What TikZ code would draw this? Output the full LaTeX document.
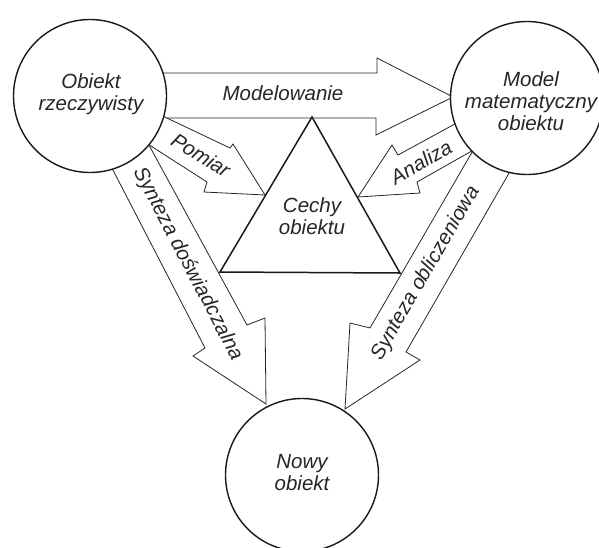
\documentclass[tikz,border=0pt]{standalone}
\usepackage{fontspec}
\setmainfont{Liberation Sans}
\begin{document}
\begin{tikzpicture}[x=1pt,y=-1pt,
  blockarrow/.style={draw=black!85, line width=0.8pt, fill=white, line join=miter},
  bubble/.style={circle, draw=black!90, line width=1.4pt, fill=white,
                 minimum size=153pt, inner sep=0pt},
  trianglebox/.style={draw=black!90, line width=1.5pt, fill=white, line join=miter},
  lbl/.style={font=\fontsize{20.5}{22}\selectfont\itshape, text=black!85,
              align=center, inner sep=0pt},
  ]
\useasboundingbox (0,0) rectangle (599,547);

% block arrows (their tails end inside the circles, which are drawn on top)
% Modelowanie
\path[blockarrow] (150,73) -- (377,73) -- (377,58) -- (453,97)
  -- (376,135) -- (376,118) -- (150,118);
% Pomiar
\path[blockarrow] (150,110) -- (230,148) -- (233,144) -- (265,195)
  -- (204,192) -- (207,182) -- (140,139);
% Analiza
\path[blockarrow] (475,113) -- (398,155) -- (392,145) -- (358,197)
  -- (420,193) -- (417,182) -- (485,143.5);
% Synteza doswiadczalna
\path[blockarrow] (100,145) -- (205,348) -- (193,356) -- (266,404)
  -- (265,318) -- (247,325) -- (140,128.6);
% Synteza obliczeniowa
\path[blockarrow] (482,135) -- (370,328) -- (350,323) -- (345,409)
  -- (420,360) -- (406,352) -- (516,161);

% the triangle of object features
\coordinate (apex) at (312,117);
\coordinate (bl) at (220,272);
\coordinate (br) at (400,273);
\path[trianglebox] (apex) -- (bl) -- (br) -- cycle;
\node[lbl] (cechy) at (312,216.5) {Cechy\\obiektu};

% the three objects
\node[bubble] (real) at (90,96) {};
\node[bubble] (model) at (527,98) {};
\node[bubble] (nowy) at (302,475) {};

\node[lbl] (realtxt) at (91,94) {Obiekt\\rzeczywisty};
\node[lbl] (modeltxt) at (531,101) {Model\\matematyczny\\obiektu};
\node[lbl] (nowytxt) at (302,472.5) {Nowy\\obiekt};

% arrow labels
\node[lbl] (mod) at (283,93.5) {Modelowanie};
\node[lbl, rotate=-32] (pom) at (201,155) {Pomiar};
\node[lbl, rotate=30] (ana) at (421,162) {Analiza};
\node[lbl, rotate=-62.5] (sd) at (188,264) {Synteza doświadczalna};
\node[lbl, rotate=60] (so) at (426,273) {Synteza obliczeniowa};
\end{tikzpicture}
\end{document}
